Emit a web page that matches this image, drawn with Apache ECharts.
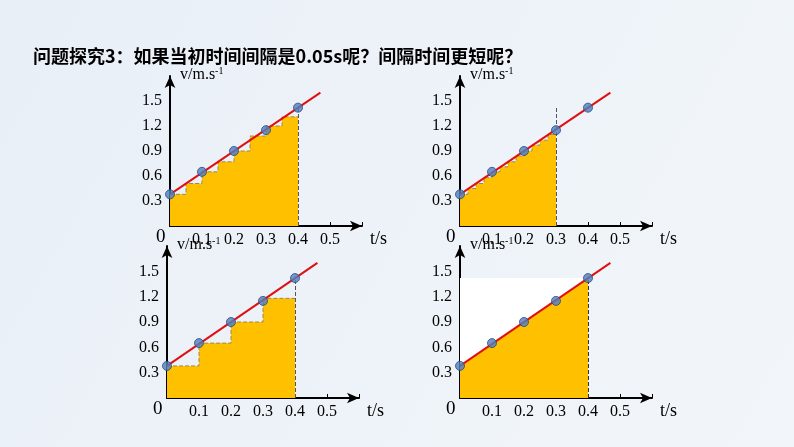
<!DOCTYPE html><html><head><meta charset="utf-8"><script src="https://cdn.jsdelivr.net/npm/echarts@6/dist/echarts.min.js"></script></head><body style="margin:0"><div id="c" style="width:794px;height:447px"></div><script>
const title = '问题探究3：如果当初时间间隔是0.05s呢？间隔时间更短呢？';
const pointsT = [0, 0.1, 0.2, 0.3, 0.4];
const pointsV = [0.38, 0.65, 0.9, 1.15, 1.42];
const lineT = [0, 0.47];
const lineV = [0.38, 1.6];
// step widths & left-heights
const stepsA_t = [0, 0.05, 0.1, 0.15, 0.2, 0.25, 0.3, 0.35, 0.4];
const stepsA_v = [0.38, 0.51, 0.65, 0.77, 0.9, 1.08, 1.2, 1.31, 1.31];
const stepsB_t = [0, 0.025, 0.05, 0.075, 0.1, 0.125, 0.15, 0.175, 0.2, 0.225, 0.25, 0.275, 0.3];
const stepsB_v = [0.38, 0.45, 0.51, 0.58, 0.65, 0.71, 0.77, 0.84, 0.9, 0.97, 1.03, 1.1, 1.1];
const stepsC_t = [0, 0.1, 0.2, 0.3, 0.4];
const stepsC_v = [0.38, 0.65, 0.9, 1.18, 1.18];
const trapT = [0, 0.4];
const trapV = [0.38, 1.42];
const whiteV = [1.42, 1.42];
const xTicks = [0.1, 0.2, 0.3, 0.4, 0.5];
const yTicks = [0.3, 0.6, 0.9, 1.2, 1.5];

const zip = (a, b) => a.map((x, i) => [x, b[i]]);
const grids = [
  {left: 170, top: 76, width: 192, height: 150},
  {left: 460, top: 76, width: 192, height: 150},
  {left: 167, top: 246, width: 192, height: 152},
  {left: 460, top: 246, width: 192, height: 152}
];
const font = 'Liberation Serif';
const xAxes = [], yAxes = [], series = [], graphics = [];
grids.forEach((g, i) => {
  xAxes.push({type: 'value', gridIndex: i, min: 0, max: 0.6, interval: 0.1,
    axisLine: {lineStyle: {color: '#000', width: 2}, symbol: ['none', 'arrow'], symbolSize: [8, 12]},
    axisTick: {inside: true, length: 4, lineStyle: {color: '#000'}},
    axisLabel: {color: '#000', fontFamily: font, fontSize: 16, margin: 6,
      formatter: v => (xTicks.some(t => Math.abs(t - v) < 1e-6)) ? v.toFixed(1) : ''},
    splitLine: {show: false}});
  yAxes.push({type: 'value', gridIndex: i, min: 0, max: 1.8, interval: 0.3,
    axisLine: {show: true, lineStyle: {color: '#000', width: 2}, symbol: ['none', 'arrow'], symbolSize: [8, 12]},
    axisTick: {show: false},
    axisLabel: {color: '#000', fontFamily: font, fontSize: 16, margin: 8,
      formatter: v => (yTicks.some(t => Math.abs(t - v) < 1e-6)) ? v.toFixed(1) : ''},
    splitLine: {show: false}});
  graphics.push({type: 'text', left: g.left - 14, top: g.top + g.height + 2,
    style: {text: '0', font: '19px "Liberation Serif"', fill: '#000'}});
  graphics.push({type: 'text', left: g.left + g.width + 8, top: g.top + g.height + 4,
    style: {text: 't/s', font: '18px "Liberation Serif"', fill: '#000'}});
  graphics.push({type: 'text', left: g.left + 10, top: g.top - 10,
    style: {rich: {n: {font: '16px "Liberation Serif"', fill: '#000'}, s: {font: '10px "Liberation Serif"', fill: '#000', verticalAlign: 'top', padding: [0, 0, 8, 0]}},
      text: '{n|v/m.s}{s|-1}'}});
});
const yellow = '#ffc000';
function step(i, t, v) {
  series.push({type: 'line', xAxisIndex: i, yAxisIndex: i, step: 'end', data: zip(t, v), symbol: 'none',
    lineStyle: {color: '#9a8a50', width: 1, type: 'dashed'}, areaStyle: {color: yellow, opacity: 1}, z: 2,
    markLine: {silent: true, symbol: 'none', label: {show: false},
      lineStyle: {color: '#555', type: 'dashed', width: 1}, data: [[{coord: [t[t.length - 1], 0]}, {coord: [t[t.length - 1], 1.42]}]]}});
}
step(0, stepsA_t, stepsA_v);
step(1, stepsB_t, stepsB_v);
step(2, stepsC_t, stepsC_v);
series.push({type: 'line', xAxisIndex: 3, yAxisIndex: 3, data: zip(trapT, whiteV), symbol: 'none',
  lineStyle: {width: 0}, areaStyle: {color: '#fff', opacity: 1}, z: 1});
series.push({type: 'line', xAxisIndex: 3, yAxisIndex: 3, data: zip(trapT, trapV), symbol: 'none',
  lineStyle: {width: 0}, areaStyle: {color: yellow, opacity: 1}, z: 2,
  markLine: {silent: true, symbol: 'none', label: {show: false},
    lineStyle: {color: '#333', type: 'dashed', width: 1}, data: [[{coord: [0.4, 0]}, {coord: [0.4, 1.42]}]]}});
[0, 1, 2, 3].forEach(i => {
  series.push({type: 'line', xAxisIndex: i, yAxisIndex: i, data: zip(lineT, lineV), symbol: 'none',
    lineStyle: {color: '#e01010', width: 2}, z: 4});
  series.push({type: 'scatter', xAxisIndex: i, yAxisIndex: i, data: zip(pointsT, pointsV), symbolSize: 9,
    itemStyle: {color: '#4f7fc0', borderColor: '#2a4a80', borderWidth: 1}, z: 5});
});
const chart = echarts.init(document.getElementById('c'));
chart.setOption({
  backgroundColor: {type: 'linear', x: 0, y: 0, x2: 1, y2: 1, colorStops: [{offset: 0, color: '#e9eff7'}, {offset: 1, color: '#f2f6fa'}]},
  animation: false,
  title: {text: title, left: 28, top: 42, textStyle: {fontFamily: 'Noto Sans CJK SC', fontSize: 18, fontWeight: 'bold', color: '#000'}},
  grid: grids, xAxis: xAxes, yAxis: yAxes, series, graphic: graphics
});
</script></body></html>
